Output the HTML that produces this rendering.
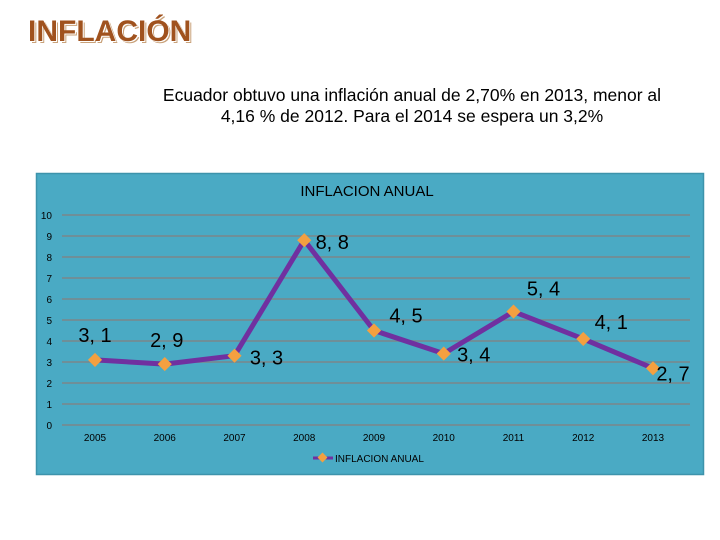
<!DOCTYPE html>
<html><head><meta charset="utf-8"><style>
body{margin:0;width:720px;height:540px;background:#fff;overflow:hidden;font-family:"Liberation Sans",sans-serif;position:relative}
#t{position:absolute;left:28px;top:15px;font-size:30px;font-weight:bold;color:#a0521e;text-shadow:1px 1px 0 #fff,2px 2px 0 #c9a27a;font-family:"Liberation Sans",sans-serif}
#s{position:absolute;left:127px;width:570px;top:85px;text-align:center;font-size:17.5px;line-height:21px;color:#000}
</style></head><body>
<div id="t">INFLACIÓN</div>
<div id="s">Ecuador obtuvo una inflación anual de 2,70% en 2013, menor al<br>4,16 % de 2012. Para el 2014 se espera un 3,2%</div>
<svg id="c" width="720" height="540" style="position:absolute;left:0;top:0"></svg>
<script>
const categories=["2005","2006","2007","2008","2009","2010","2011","2012","2013"];
const values=[3.1,2.9,3.3,8.8,4.5,3.4,5.4,4.1,2.7];
const labels=["3, 1","2, 9","3, 3","8, 8","4, 5","3, 4","5, 4","4, 1","2, 7"];
const yTicks=[0,1,2,3,4,5,6,7,8,9,10];
const NS="http://www.w3.org/2000/svg";
const svg=document.getElementById('c');
function mk(tag,attrs,parent){const e=document.createElementNS(NS,tag);for(const k in attrs)e.setAttribute(k,attrs[k]);(parent||svg).appendChild(e);return e;}
const x=i=>95+i*69.75;
const y=v=>425-v*21;
const box=mk('rect',{x:36.5,y:173.5,width:667,height:301,fill:'#4aaac4',stroke:'#3d93ab','stroke-width':1.5});


const ct=mk('text',{x:367,y:196,'text-anchor':'middle','font-size':15,'font-family':'Liberation Sans,sans-serif',fill:'#000'});
ct.textContent='INFLACION ANUAL';


yTicks.forEach(v=>{
 const g=mk('line',{x1:62,x2:690,y1:y(v),y2:y(v),stroke:'#6f8f98','stroke-width':2});
 
 
 const t=mk('text',{x:52,y:y(v)+4,'text-anchor':'end','font-size':10,fill:'#000'});
 t.textContent=v;
 
 
});
categories.forEach((c,i)=>{
 const t=mk('text',{x:x(i),y:441,'text-anchor':'middle','font-size':10,fill:'#000'});
 t.textContent=c;
 
 
});
const line=mk('polyline',{points:values.map((v,i)=>x(i)+','+y(v)).join(' '),fill:'none',stroke:'#7030a0','stroke-width':5,'stroke-linejoin':'round'});


const off=[[0,-25],[2,-24],[32,2],[28,2],[32,-15],[30,1],[30,-23],[28,-17],[20,5]];
values.forEach((v,i)=>{
 const m=mk('rect',{x:x(i)-5,y:y(v)-5,width:10,height:10,fill:'#f4a040',transform:`rotate(45 ${x(i)} ${y(v)})`});
 
 
 const t=mk('text',{x:x(i)+off[i][0],y:y(v)+off[i][1]+7,'text-anchor':'middle','font-size':20,fill:'#000'});
 t.textContent=labels[i];
 
 
});
const ll=mk('line',{x1:313,x2:333,y1:458,y2:458,stroke:'#7030a0','stroke-width':3});


const lm=mk('rect',{x:319,y:454,width:7,height:7,fill:'#f4a040',transform:'rotate(45 322.5 457.5)'});


const lt=mk('text',{x:335,y:462,'font-size':10,fill:'#000'});
lt.textContent='INFLACION ANUAL';


</script>
</body></html>
